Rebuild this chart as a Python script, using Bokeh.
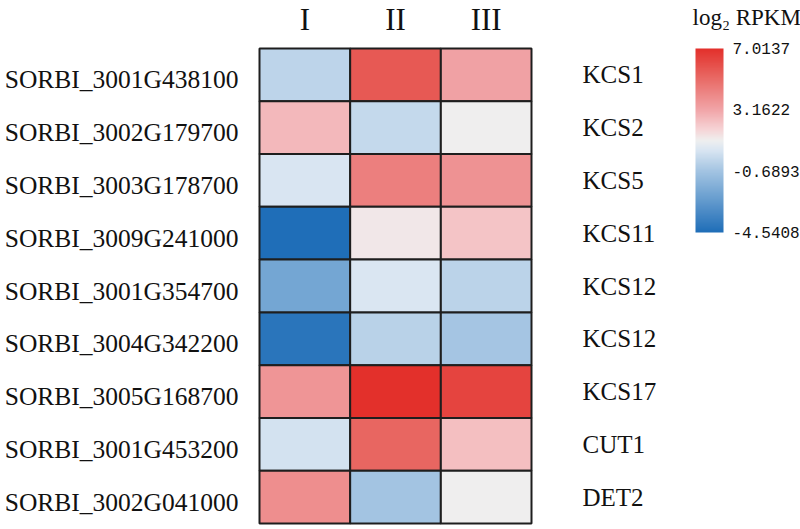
import numpy as np
from bokeh.plotting import figure
from bokeh.models import (ColumnDataSource, LinearColorMapper, ColorBar,
                          FixedTicker, PrintfTickFormatter, Range1d, Label)
from bokeh.core.properties import value
from bokeh.embed import file_html
from bokeh.resources import INLINE

# ---------------- data ----------------
columns = ["I", "II", "III"]
gene_ids = ["SORBI_3001G438100", "SORBI_3002G179700", "SORBI_3003G178700",
            "SORBI_3009G241000", "SORBI_3001G354700", "SORBI_3004G342200",
            "SORBI_3005G168700", "SORBI_3001G453200", "SORBI_3002G041000"]
gene_names = ["KCS1", "KCS2", "KCS5", "KCS11", "KCS12", "KCS12",
              "KCS17", "CUT1", "DET2"]
val_I = [-0.03, 2.67, 0.62, -4.54, -2.03, -4.22, 3.70, 0.51, 3.90]
val_II = [5.66, 0.12, 4.44, 1.45, 0.66, -0.15, 7.01, 5.28, -0.67]
val_III = [3.31, 1.24, 3.78, 2.35, -0.10, -0.65, 6.37, 2.50, 1.24]
vmin, vmax = -4.5408, 7.0137
cbar_ticks = [-4.5408, -0.6893, 3.1622, 7.0137]

# ---------------- colour map ----------------
def hex2rgb(h):
    h = h.lstrip("#")
    return np.array([int(h[i:i + 2], 16) for i in (0, 2, 4)], dtype=float)

stops = [(0.0, "#1f6eb8"), (0.333, "#a3c4e2"), (0.45, "#dae6f2"),
         (0.5, "#efefef"), (0.56, "#f6d4d6"), (0.667, "#f1a5a8"),
         (0.85, "#e86661"), (1.0, "#e3302b")]
palette = []
for t in np.linspace(0, 1, 256):
    for (t0, c0), (t1, c1) in zip(stops[:-1], stops[1:]):
        if t0 <= t <= t1:
            f = (t - t0) / (t1 - t0)
            c = hex2rgb(c0) + (hex2rgb(c1) - hex2rgb(c0)) * f
            break
    palette.append("#%02x%02x%02x" % tuple(int(round(v)) for v in c))
mapper = LinearColorMapper(palette=palette, low=vmin, high=vmax)

# ---------------- layout constants ----------------
W, H = 800, 529
n_rows, n_cols = len(gene_ids), len(columns)
grid_left, grid_w = 259, 272
grid_top, grid_bottom = 48, 523
col_px = grid_w / n_cols
row_px = (grid_bottom - grid_top) / n_rows

p = figure(width=W, height=H, output_backend="svg", toolbar_location=None,
           x_axis_type=None, y_axis_type=None, min_border=0,
           x_range=Range1d(-grid_left / col_px, (W - grid_left) / col_px),
           y_range=Range1d(-(H - grid_bottom) / row_px, n_rows + grid_top / row_px))
p.outline_line_color = None
p.xgrid.visible = False
p.ygrid.visible = False

# ---------------- heatmap cells ----------------
xs, ys, vals = [], [], []
for ci, col_vals in enumerate([val_I, val_II, val_III]):
    for ri, v in enumerate(col_vals):
        xs.append(ci + 0.5)
        ys.append(n_rows - 1 - ri + 0.5)
        vals.append(v)
src = ColumnDataSource(dict(x=xs, y=ys, val=vals))
p.rect(x="x", y="y", width=1, height=1, source=src,
       fill_color={"field": "val", "transform": mapper},
       line_color="#1e1e1e", line_width=2)

row_y = [n_rows - 1 - i + 0.5 for i in range(n_rows)]
serif = value("Liberation Serif")

# left labels
p.text(x=[0] * n_rows, y=row_y, text=gene_ids, text_font=serif,
       text_font_size="25.5px", text_align="right", text_baseline="middle",
       x_offset=-21, y_offset=5, text_color="#111111")
# right labels
p.text(x=[n_cols] * n_rows, y=row_y, text=gene_names, text_font=serif,
       text_font_size="25px", text_align="left", text_baseline="middle",
       x_offset=51, y_offset=0, text_color="#111111")
# column headers
p.text(x=[i + 0.5 for i in range(n_cols)], y=[n_rows] * n_cols, text=columns,
       text_font=serif, text_font_size="31px", text_align="center",
       text_baseline="alphabetic", y_offset=-29, text_color="#111111")

# ---------------- colour bar ----------------
cb = ColorBar(color_mapper=mapper, ticker=FixedTicker(ticks=cbar_ticks),
              formatter=PrintfTickFormatter(format="%.4f"),
              width=28, height=184, location=(695, H - 232), padding=0,
              major_label_text_font="Liberation Mono",
              major_label_text_font_size="16px", major_label_text_color="#111111",
              label_standoff=9, major_tick_line_color=None,
              minor_tick_line_color=None, bar_line_color=None,
              border_line_color=None, background_fill_color=None)
p.add_layout(cb)

cb_title = Label(x=692, y=H - 17, x_units="screen", y_units="screen",
                 text="log\u2082 RPKM", text_font="Liberation Serif",
                 text_font_size="23px", text_baseline="middle",
                 text_align="left", text_color="#111111")
p.add_layout(cb_title)

open("out.html", "w").write(file_html(p, INLINE))
